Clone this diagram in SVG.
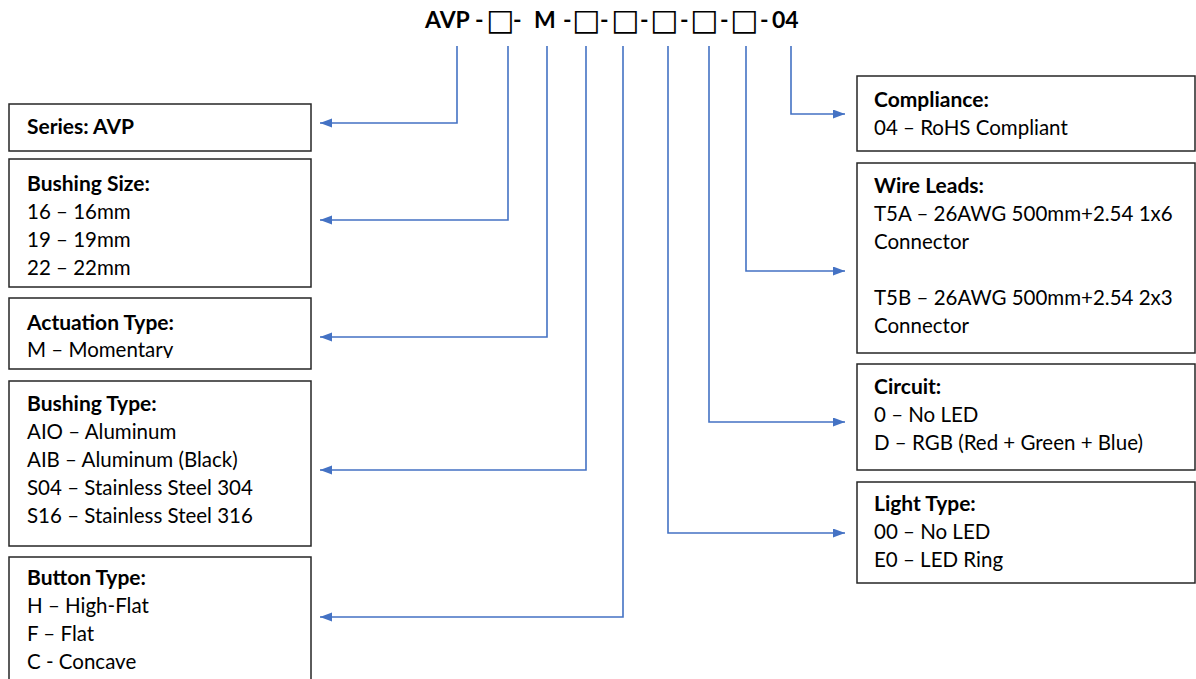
<svg xmlns="http://www.w3.org/2000/svg" width="1196" height="679" viewBox="0 0 1196 679">
<style>
.box{fill:#fff;stroke:#262626;stroke-width:1.5}
.t{font-family:Lato,"Open Sans","Liberation Sans",sans-serif;font-size:20.5px;fill:#000}
.b{font-weight:bold;font-size:21px}
.hdr{font-family:Lato,"Liberation Sans",sans-serif;font-size:23px;font-weight:bold;fill:#000}
.sq{font-family:"DejaVu Sans",sans-serif;font-weight:bold;font-size:30px}
.c{fill:none;stroke:#4472C4;stroke-width:1.6}
</style>
<defs>
<marker id="ah" markerUnits="userSpaceOnUse" markerWidth="13" markerHeight="10" refX="12" refY="4.5" orient="auto">
<path d="M0,0 L12,4.5 L0,9 z" fill="#4472C4"/>
</marker>
</defs>
<rect width="1196" height="679" fill="#fff"/>
<g id="header">
<text class="hdr" y="28"><tspan x="425">AVP</tspan><tspan x="475">-</tspan><tspan class="sq" x="486" y="30">□</tspan><tspan x="513" y="28">-</tspan><tspan x="534">M</tspan><tspan x="563">-</tspan><tspan class="sq" x="572" y="30">□</tspan><tspan x="600" y="28">-</tspan><tspan class="sq" x="611" y="30">□</tspan><tspan x="640" y="28">-</tspan><tspan class="sq" x="650" y="30">□</tspan><tspan x="680" y="28">-</tspan><tspan class="sq" x="690" y="30">□</tspan><tspan x="720" y="28">-</tspan><tspan class="sq" x="730" y="30">□</tspan><tspan x="760" y="28">-</tspan><tspan x="772">04</tspan></text>
</g>
<g id="connectors">
<path class="c" d="M457,46 V123 H320" marker-end="url(#ah)"/>
<path class="c" d="M508,46 V220 H320" marker-end="url(#ah)"/>
<path class="c" d="M547,46 V337 H320" marker-end="url(#ah)"/>
<path class="c" d="M586,46 V470 H320" marker-end="url(#ah)"/>
<path class="c" d="M623,46 V617 H320" marker-end="url(#ah)"/>
<path class="c" d="M668,46 V533 H845" marker-end="url(#ah)"/>
<path class="c" d="M709,46 V422 H845" marker-end="url(#ah)"/>
<path class="c" d="M746,46 V271 H845" marker-end="url(#ah)"/>
<path class="c" d="M791,46 V114 H845" marker-end="url(#ah)"/>
</g>
<g id="series">
<rect class="box" x="9" y="104" width="302" height="47"/>
<text class="t b" x="27" y="134">Series: AVP</text>
</g>
<g id="bushing-size">
<rect class="box" x="9" y="159" width="302" height="128"/>
<text class="t" x="27"><tspan class="b" y="191">Bushing Size:</tspan><tspan x="27" y="219">16 – 16mm</tspan><tspan x="27" y="247">19 – 19mm</tspan><tspan x="27" y="275">22 – 22mm</tspan></text>
</g>
<g id="actuation-type">
<clipPath id="clipA"><rect x="9" y="298" width="302" height="60"/></clipPath>
<rect class="box" x="9" y="298" width="302" height="71"/>
<text class="t" x="27" clip-path="url(#clipA)"><tspan class="b" y="330">Actuation Type:</tspan><tspan x="27" y="357">M – Momentary</tspan></text>
</g>
<g id="bushing-type">
<rect class="box" x="9" y="381" width="302" height="165"/>
<text class="t" x="27"><tspan class="b" y="411">Bushing Type:</tspan><tspan x="27" y="439">AIO – Aluminum</tspan><tspan x="27" y="467">AIB – Aluminum (Black)</tspan><tspan x="27" y="495">S04 – Stainless Steel 304</tspan><tspan x="27" y="523">S16 – Stainless Steel 316</tspan></text>
</g>
<g id="button-type">
<rect class="box" x="9" y="557" width="302" height="130"/>
<text class="t" x="27"><tspan class="b" y="585">Button Type:</tspan><tspan x="27" y="613">H – High-Flat</tspan><tspan x="27" y="641">F – Flat</tspan><tspan x="27" y="669">C - Concave</tspan></text>
</g>
<g id="compliance">
<rect class="box" x="857" y="76" width="338" height="75"/>
<text class="t" x="874"><tspan class="b" y="107">Compliance:</tspan><tspan x="874" y="135">04 – RoHS Compliant</tspan></text>
</g>
<g id="wire-leads">
<rect class="box" x="857" y="163" width="338" height="190"/>
<text class="t" x="874"><tspan class="b" y="193">Wire Leads:</tspan><tspan x="874" y="221">T5A – 26AWG 500mm+2.54 1x6</tspan><tspan x="874" y="249">Connector</tspan><tspan x="874" y="305">T5B – 26AWG 500mm+2.54 2x3</tspan><tspan x="874" y="333">Connector</tspan></text>
</g>
<g id="circuit">
<rect class="box" x="857" y="364" width="338" height="106"/>
<text class="t" x="874"><tspan class="b" y="394">Circuit:</tspan><tspan x="874" y="422">0 – No LED</tspan><tspan x="874" y="450">D – RGB (Red + Green + Blue)</tspan></text>
</g>
<g id="light-type">
<rect class="box" x="857" y="482" width="338" height="101"/>
<text class="t" x="874"><tspan class="b" y="511">Light Type:</tspan><tspan x="874" y="539">00 – No LED</tspan><tspan x="874" y="567">E0 – LED Ring</tspan></text>
</g>
</svg>
